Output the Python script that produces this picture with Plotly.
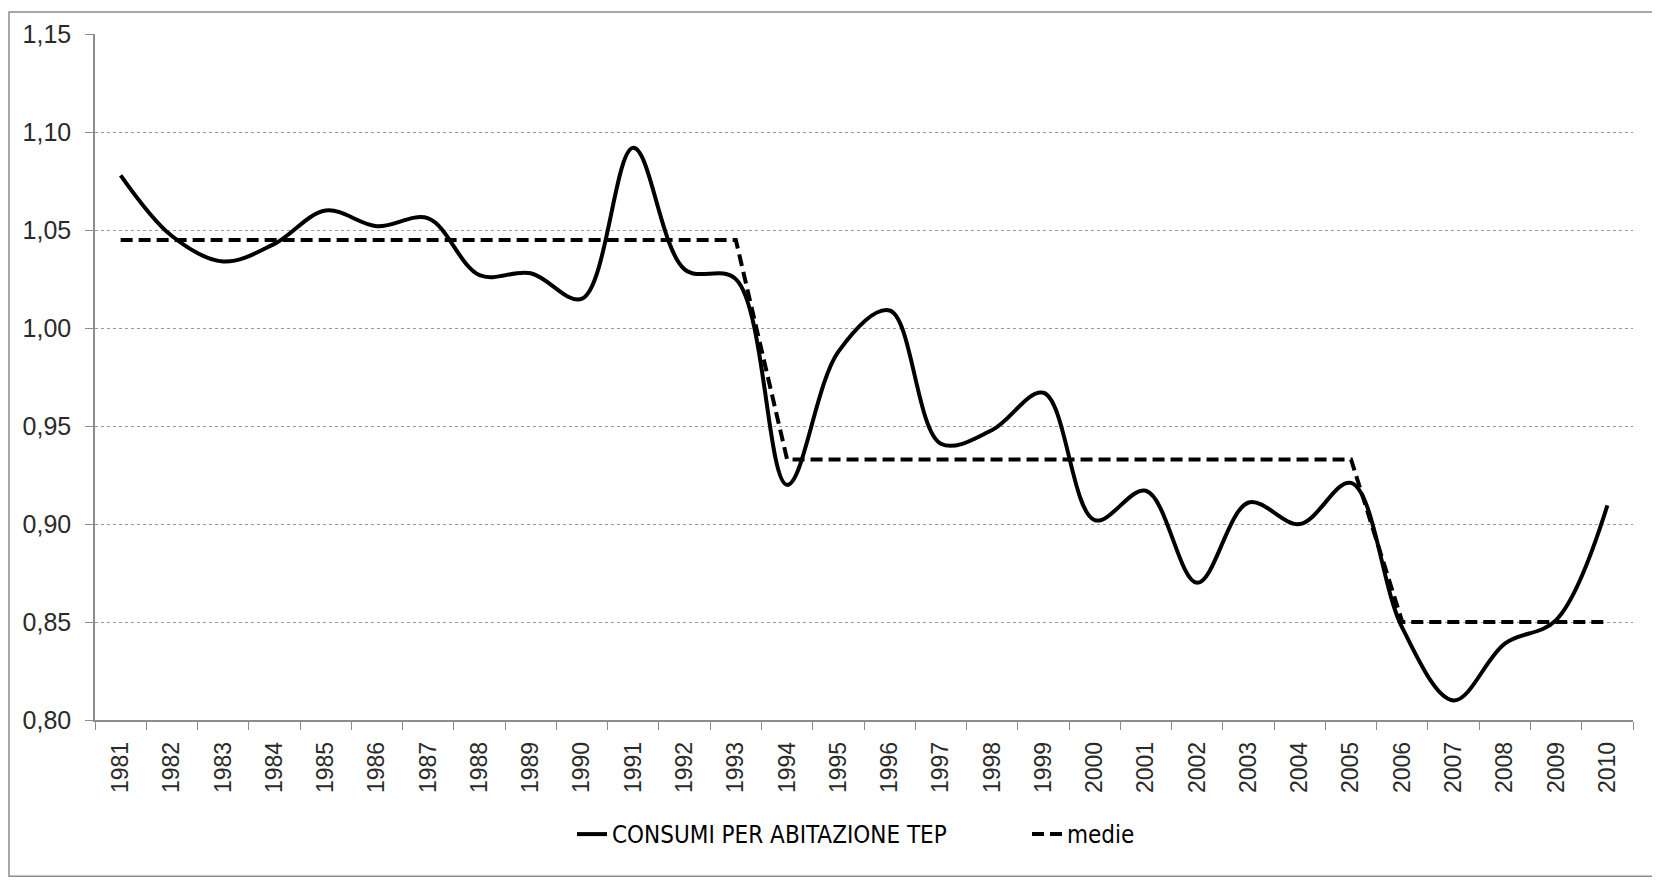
import plotly.graph_objects as go

years = [str(y) for y in range(1981, 2011)]
consumi = [1.078, 1.047, 1.034, 1.043, 1.060, 1.052, 1.056, 1.027, 1.028, 1.015,
           1.092, 1.030, 1.025, 0.920, 0.988, 1.009, 0.941, 0.948, 0.967, 0.902,
           0.917, 0.870, 0.911, 0.900, 0.921, 0.847, 0.810, 0.839, 0.851, 0.9095]
medie = [1.045] * 13 + [0.933] * 12 + [0.850] * 5
y_ticks = [0.80, 0.85, 0.90, 0.95, 1.00, 1.05, 1.10, 1.15]

# page has an 8px body margin; figure coordinates = page coordinates - 8
OFF = 8
W, H = 1660 - OFF, 880 - OFF
L, R, T, B = 95 - OFF, 1660 - 1633, 31 - OFF, 880 - 720
pw, ph = W - L - R, H - T - B


def px_x(p):
    return (p - OFF - L) / pw


def px_y(p):
    return (H - B - (p - OFF)) / ph


fig = go.Figure()
fig.add_trace(go.Scatter(
    x=years, y=consumi, name="CONSUMI PER ABITAZIONE TEP", mode="lines",
    line=dict(color="black", width=4, shape="spline", smoothing=1.0)))
fig.add_trace(go.Scatter(
    x=years, y=medie, name="medie", mode="lines",
    line=dict(color="black", width=4, dash="12px,6px")))

fig.add_shape(type="rect", xref="paper", yref="paper",
              x0=px_x(9), x1=px_x(1657), y0=px_y(877), y1=px_y(9),
              line=dict(color="#8c8c8c", width=1.5), layer="below")

tick_font = dict(family="Liberation Sans, Arial, sans-serif", color="#2a2a2a")

fig.update_layout(
    width=W, height=H,
    margin=dict(l=L, r=R, t=T, b=B),
    paper_bgcolor="white", plot_bgcolor="white",
    separators=",.",
    showlegend=True,
    legend=dict(orientation="h", x=px_x(572), xanchor="left",
                y=px_y(835), yanchor="middle",
                font=dict(family="DejaVu Sans Condensed, sans-serif",
                          size=24, color="black"),
                entrywidth=410, tracegroupgap=0),
    xaxis=dict(type="category", range=[-0.5, 29.5],
               showline=True, linecolor="#8c8c8c", linewidth=1.5,
               ticks="outside", tickson="boundaries", ticklen=8, tickcolor="#8c8c8c",
               tickangle=-90, showgrid=False,
               tickfont=dict(size=23, **tick_font),
               ticklabelstandoff=11),
    yaxis=dict(range=[0.80, 1.1501], tickvals=y_ticks, tickformat=".2f",
               showline=True, linecolor="#8c8c8c", linewidth=1.5,
               ticks="outside", ticklen=8, tickcolor="#8c8c8c",
               showgrid=True, gridcolor="#9a9a9a", gridwidth=1, griddash="dot",
               zeroline=False,
               tickfont=dict(size=25, **tick_font),
               ticklabelstandoff=9),
)

fig.write_html("out.html")
